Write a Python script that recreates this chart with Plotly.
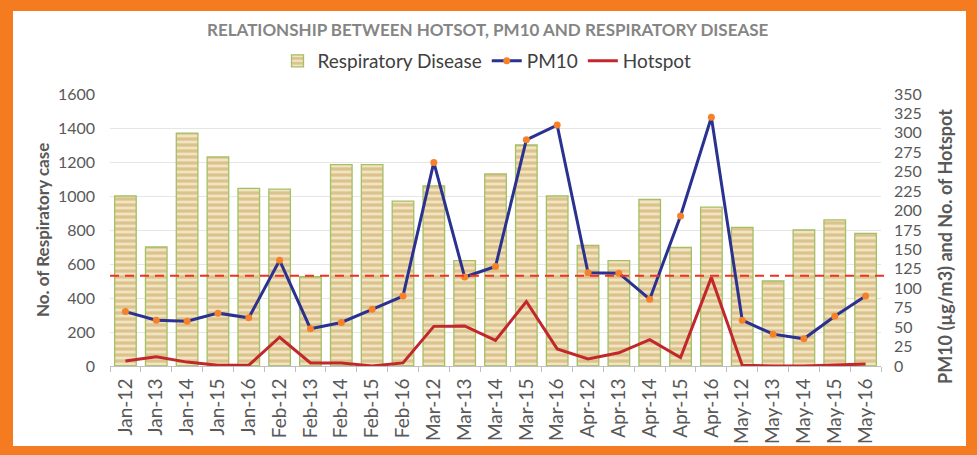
import plotly.graph_objects as go

categories = ["Jan-12", "Jan-13", "Jan-14", "Jan-15", "Jan-16",
              "Feb-12", "Feb-13", "Feb-14", "Feb-15", "Feb-16",
              "Mar-12", "Mar-13", "Mar-14", "Mar-15", "Mar-16",
              "Apr-12", "Apr-13", "Apr-14", "Apr-15", "Apr-16",
              "May-12", "May-13", "May-14", "May-15", "May-16"]
respiratory = [1000, 700, 1370, 1230, 1045, 1040, 525, 1185, 1185, 970,
               1060, 620, 1130, 1300, 1000, 710, 620, 980, 698, 935,
               815, 500, 800, 860, 780]
pm10 = [70, 59, 57.5, 68, 62, 136, 48, 56, 73, 90,
        262, 114.5, 128, 291, 310, 120, 119.5, 86, 193, 320,
        59, 41, 35, 64, 90]
hotspot = [6.5, 12, 5, 1, 1, 37, 4, 4, 0, 4,
           51, 51.5, 33, 83, 22, 9, 17, 34, 11, 114,
           1, 0, 0, 1.5, 2.5]
threshold = 116

W, H = 977, 455
ML, MR, MT, MB = 110, 96, 94, 89
PW, PH = W - ML - MR, H - MT - MB


def px(x):
    return (x - ML) / PW


def py(y):
    return (H - MB - y) / PH


FONT = "Lato"
GREY = "#595959"

fig = go.Figure()
fig.add_trace(go.Bar(
    x=categories, y=respiratory, name="Respiratory Disease",
    marker=dict(color="#F0E4C2", line=dict(color="#A3C065", width=1.3),
                pattern=dict(shape="-", fgcolor="#C7A257", size=6,
                             solidity=0.55, fillmode="overlay")),
    yaxis="y",
))
fig.add_trace(go.Scatter(
    x=categories, y=pm10, name="PM10", mode="lines+markers",
    line=dict(color="#2B3190", width=3),
    marker=dict(color="#F5822A", size=7),
    yaxis="y2",
))
fig.add_trace(go.Scatter(
    x=categories, y=hotspot, name="Hotspot", mode="lines",
    line=dict(color="#C1272D", width=3),
    yaxis="y2",
))

shapes = [
    dict(type="rect", xref="paper", yref="paper", layer="below",
         x0=px(13), x1=px(966), y0=py(446), y1=py(11),
         fillcolor="white", line=dict(width=0)),
    dict(type="line", xref="paper", yref="y2", layer="above",
         x0=0, x1=px(890), y0=threshold, y1=threshold,
         line=dict(color="#EE3124", width=2, dash="9px,6px")),
]

annotations = [
    dict(text="RELATIONSHIP BETWEEN HOTSOT, PM10 AND RESPIRATORY DISEASE",
         xref="paper", yref="paper", x=px(488), y=py(30), showarrow=False,
         xanchor="center", yanchor="middle",
         font=dict(family=FONT, size=17, color="#858585", weight="bold")),
    dict(text="No. of Respiratory case", xref="paper", yref="paper",
         x=px(42), y=py(230), showarrow=False, textangle=-90,
         xanchor="center", yanchor="middle",
         font=dict(family=FONT, size=17, color=GREY, weight="bold")),
    dict(text="PM10 (µg/m3) and No. of Hotspot", xref="paper", yref="paper",
         x=px(945), y=py(247), showarrow=False, textangle=-90,
         xanchor="center", yanchor="middle",
         font=dict(family=FONT, size=18, color=GREY, weight="bold")),
]

fig.update_layout(
    width=W, height=H,
    margin=dict(l=ML, r=MR, t=MT, b=MB, autoexpand=False),
    paper_bgcolor="#F47B20",
    plot_bgcolor="white",
    font=dict(family=FONT, size=16, color=GREY),
    bargap=0.3,
    showlegend=True,
    legend=dict(orientation="h", x=px(487), y=py(61), xanchor="center",
                yanchor="middle", font=dict(size=19, color="#404040"),
                bgcolor="rgba(0,0,0,0)", traceorder="normal"),
    xaxis=dict(type="category", tickangle=-90, showgrid=False,
               range=[-0.5, len(categories) - 0.5], autorange=False,
               showline=True, linecolor="#BFBFBF", linewidth=1,
               ticks="outside", tickson="boundaries", ticklen=5,
               tickcolor="#BFBFBF", tickfont=dict(size=19, color=GREY),
               ticklabelstandoff=4, automargin=False),
    yaxis=dict(range=[0, 1600], dtick=200, showgrid=True,
               gridcolor="#E6E6E6", gridwidth=1, zeroline=False,
               tickfont=dict(size=16, color=GREY), ticklabelstandoff=14,
               automargin=False),
    yaxis2=dict(range=[0, 350], dtick=25, overlaying="y", side="right",
                showgrid=False, zeroline=False,
                tickfont=dict(size=16, color=GREY), ticklabelstandoff=12,
                automargin=False),
    shapes=shapes,
    annotations=annotations,
)

fig.write_html(
    "out.html",
    config={"displayModeBar": False},
    post_script="document.body.style.margin='0';document.body.style.padding='0';",
)
